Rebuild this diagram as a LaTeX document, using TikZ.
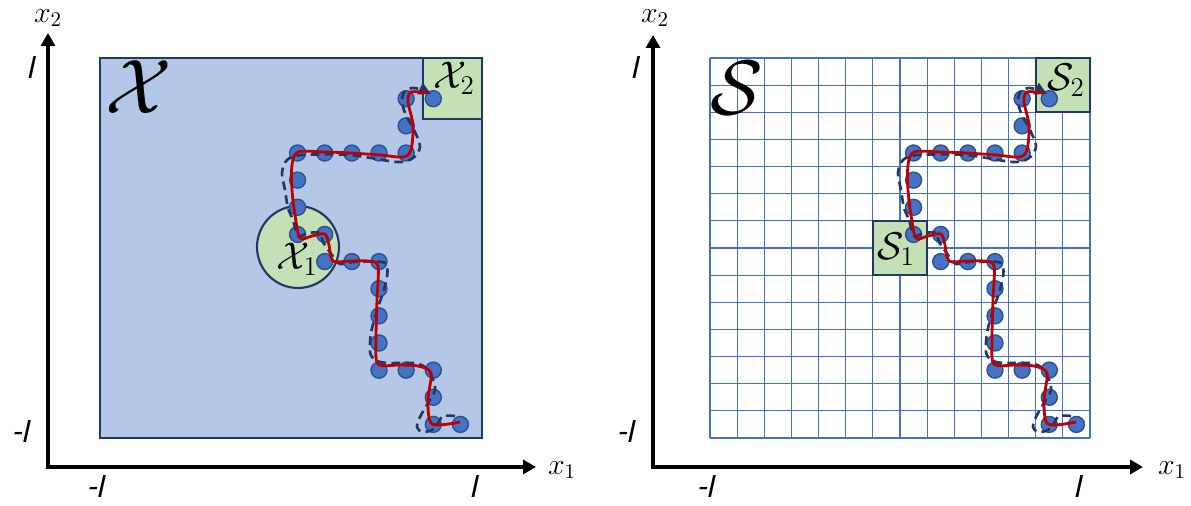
\RequirePackage{fix-cm}
\documentclass[tikz,border=0pt]{standalone}
\usepackage{amsmath}
\usepackage{fontspec}
\newfontfamily\calibri[FakeSlant=0.22]{Carlito}
\usetikzlibrary{arrows.meta}
\definecolor{regionblue}{HTML}{B4C7E7}
\definecolor{setgreen}{HTML}{C5E0B4}
\definecolor{edgenavy}{HTML}{1F3864}
\definecolor{dotblue}{HTML}{4472C4}
\definecolor{dotedge}{HTML}{2F528F}
\definecolor{pathred}{HTML}{C00000}
\definecolor{gridblue}{HTML}{4472C4}

\begin{document}
\begin{tikzpicture}[
  x=0.02cm, y=-0.02cm,
  region/.style={draw=edgenavy, fill=regionblue, line width=1.2pt},
  setbox/.style={draw=edgenavy, fill=setgreen, line width=1.2pt},
  dot/.style={circle, draw=dotedge, fill=dotblue, line width=0.8pt,
              minimum size=0.32cm, inner sep=0pt},
  track/.style={pathred, line width=1.6pt, line join=round},
  guess/.style={edgenavy, line width=1.5pt, dash pattern=on 5pt off 3pt,
                -{Triangle[length=7pt,width=7pt]}},
  axis/.style={line width=2.4pt,
               {Triangle[length=0.26cm,width=0.28cm]}-{Triangle[length=0.26cm,width=0.28cm]}},
  gridline/.style={gridblue, line width=0.7pt},
  lbl/.style={font=\fontsize{18}{22}\selectfont\calibri, inner sep=0pt},
  coord/.style={font=\fontsize{17}{20}\selectfont, inner sep=0pt},
  setname/.style={font=\fontsize{22}{26}\selectfont, inner sep=0pt},
  bigname/.style={font=\fontsize{44}{52}\selectfont, inner sep=0pt}
]
  \useasboundingbox (0,0) rectangle (1191,506);

  % Continuous domain
  \draw[region] (100,58) rectangle (482,438);
  \draw[setbox] (423,58) rectangle (482,119);
  \draw[setbox] (298,247) circle[radius=0.82cm];
  \node[bigname] (X) at (139,87) {$\mathcal{X}$};
  \node[setname] (X2) at (454,78) {$\mathcal{X}_2$};
  \node[setname] (X1) at (297,259) {$\mathcal{X}_1$};

  % Discrete grid
  \foreach \i in {0,...,14} {
    \draw[gridline] ({710+\i*27.143},58) -- ({710+\i*27.143},438);
    \draw[gridline] (710,{58+\i*27.143}) -- (1090,{58+\i*27.143});
  }
  \draw[setbox] (872.9,220.9) rectangle (927.1,275.1);
  \draw[setbox] (1035.7,58) rectangle (1090,112.3);
  \node[bigname] (S) at (737,88) {$\mathcal{S}$};
  \node[setname] (S2) at (1066,80) {$\mathcal{S}_2$};
  \node[setname] (S1) at (896,249) {$\mathcal{S}_1$};

  % Samples and trajectories (same in both panels)
  \foreach \dx in {0,616} {
    \begin{scope}[shift={(\dx,0)}]
      \foreach \c/\r in {11/1,12/1,11/2,11/3,10/3,9/3,8/3,7/3,7/4,7/5,7/6,8/6,8/7,9/7,
                         10/7,10/8,10/9,10/10,10/11,11/11,12/11,12/12,12/13,13/13}
        \node[dot] (d\dx-\c-\r) at ({94+(\c+0.5)*27.143},{58+(\r+0.5)*27.143}) {};
      % approximate trajectory
      \draw[guess] plot[smooth, tension=0.5] coordinates {
        (455,416) (443,416) (438,423) (432,430) (422,432) (417,427) (420,417)
        (428,403) (435,390) (432,377) (425,367) (413,363) (387,363) (375,360)
        (370,352) (371,333) (377,310) (383,293) (387,277) (387,267) (382,262)
        (353,262) (340,264) (332,255) (323,242) (320,233) (308,233) (298,236)
        (293,220) (288,208) (285,190) (282,173) (287,160) (302,155) (350,155)
        (397,162) (413,158) (420,147) (415,132) (405,113) (402,100) (405,91)
        (413,88) (422,90) (431,94)};
      % true trajectory
      \draw[track] plot[smooth, tension=0.5] coordinates {
        (460,422) (432,424) (428,400) (431,373) (418,366) (400,365) (378,364)
        (376,340) (377,300) (378,266) (368,261) (350,261) (333,261) (329,245)
        (325,234) (312,236) (300,238) (295,215) (292,190) (292,165) (298,152)
        (325,152) (350,153) (380,155) (403,157) (411,150) (413,125) (408,102)
        (411,92) (427,93)};
    \end{scope}
  }

  % Axes, left panel
  \coordinate (oL) at (48,467);
  \coordinate (tL) at (48,33);
  \coordinate (rL) at (536,467);
  \draw[axis] (tL) -- (oL) -- (rL);
  \node[coord] (x2L) at (48,18) {$x_2$};
  \node[coord] (x1L) at (562,470) {$x_1$};
  \node[lbl] (upL) at (30,68) {l};
  \node[lbl] (loL) at (20,432) {-l};
  \node[lbl] (miL) at (95,487) {-l};
  \node[lbl] (maL) at (473,487) {l};

  % Axes, right panel
  \coordinate (oR) at (653,467);
  \coordinate (tR) at (653,35);
  \coordinate (rR) at (1143,467);
  \draw[axis] (tR) -- (oR) -- (rR);
  \node[coord] (x2R) at (655,18) {$x_2$};
  \node[coord] (x1R) at (1172,470) {$x_1$};
  \node[lbl] (upR) at (634,68) {l};
  \node[lbl] (loR) at (625,432) {-l};
  \node[lbl] (miR) at (705,487) {-l};
  \node[lbl] (maR) at (1077,487) {l};
\end{tikzpicture}
\end{document}
